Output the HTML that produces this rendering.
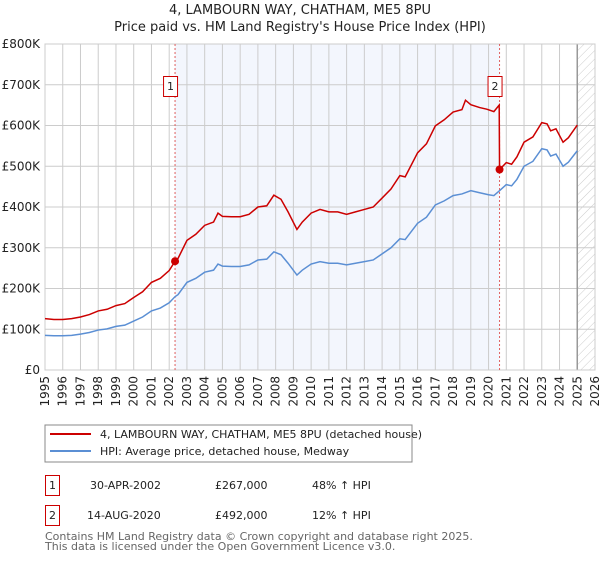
<!DOCTYPE html>
<html><head><meta charset="utf-8"><style>
body{margin:0;background:#fff;font-family:"Liberation Sans","DejaVu Sans",sans-serif;}
svg text{font-family:"DejaVu Sans","Liberation Sans",sans-serif;}
</style></head><body>
<svg id="c" width="600" height="560" xmlns="http://www.w3.org/2000/svg">
<defs><pattern id="hatch" width="6" height="6" patternUnits="userSpaceOnUse" patternTransform="rotate(45)"><line x1="0" y1="0" x2="0" y2="6" stroke="#ccc" stroke-width="1"/></pattern></defs>
<text x="300" y="14" text-anchor="middle" font-size="13" fill="#222">4, LAMBOURN WAY, CHATHAM, ME5 8PU</text>
<text x="300" y="31" text-anchor="middle" font-size="13" fill="#222">Price paid vs. HM Land Registry's House Price Index (HPI)</text>
<g id="plot"></g>
<rect x="45" y="425" width="367" height="37" fill="#fff" stroke="#888"/>
<line x1="50" y1="434" x2="91" y2="434" stroke="#cc0000" stroke-width="2"/>
<text x="100" y="438" font-size="11" fill="#222">4, LAMBOURN WAY, CHATHAM, ME5 8PU (detached house)</text>
<line x1="50" y1="451" x2="91" y2="451" stroke="#5b8fd4" stroke-width="2"/>
<text x="100" y="455" font-size="11" fill="#222">HPI: Average price, detached house, Medway</text>
<g font-size="11" fill="#222">
<rect x="45.5" y="475.5" width="14" height="20" fill="#fff" stroke="#cc0000"/><text x="52.5" y="489" text-anchor="middle">1</text>
<text x="90" y="489">30-APR-2002</text><text x="215" y="489">£267,000</text><text x="312" y="489">48% ↑ HPI</text></g>
<g font-size="11" fill="#222">
<rect x="45.5" y="505.5" width="14" height="20" fill="#fff" stroke="#cc0000"/><text x="52.5" y="519" text-anchor="middle">2</text>
<text x="87" y="519">14-AUG-2020</text><text x="215" y="519">£492,000</text><text x="312" y="519">12% ↑ HPI</text></g>
<text x="45" y="540" font-size="11" fill="#666">Contains HM Land Registry data © Crown copyright and database right 2025.</text>
<text x="45" y="550" font-size="11" fill="#666">This data is licensed under the Open Government Licence v3.0.</text>
</svg>
<script>
const hpiDates=[1995,1995.5,1996,1996.5,1997,1997.5,1998,1998.5,1999,1999.5,2000,2000.5,2001,2001.5,2002,2002.33,2002.5,2003,2003.5,2004,2004.5,2004.75,2005,2005.5,2006,2006.5,2007,2007.5,2007.9,2008.3,2008.7,2009.2,2009.5,2010,2010.5,2011,2011.5,2012,2012.5,2013,2013.5,2014,2014.5,2015,2015.3,2016,2016.5,2017,2017.5,2018,2018.5,2019,2019.5,2020,2020.3,2020.62,2021,2021.3,2021.6,2022,2022.5,2023,2023.3,2023.5,2023.8,2024.2,2024.5,2025];
const hpiValues=[85,84,84,85,88,92,98,101,107,110,120,130,145,152,165,180,185,215,225,240,245,260,255,254,254,258,270,272,290,283,262,233,245,260,266,262,262,258,262,266,270,285,300,322,320,360,375,405,415,428,432,440,435,430,428,440,455,452,468,500,512,543,540,525,530,500,510,538];
const priceDates=[1995,1995.5,1996,1996.5,1997,1997.5,1998,1998.5,1999,1999.5,2000,2000.5,2001,2001.5,2002,2002.33,2002.5,2003,2003.5,2004,2004.5,2004.75,2005,2005.5,2006,2006.5,2007,2007.5,2007.9,2008.3,2008.7,2009.2,2009.5,2010,2010.5,2011,2011.5,2012,2012.5,2013,2013.5,2014,2014.5,2015,2015.3,2016,2016.5,2017,2017.5,2018,2018.5,2018.7,2019,2019.5,2019.9,2020.3,2020.6,2020.62,2021,2021.3,2021.6,2022,2022.5,2023,2023.3,2023.5,2023.8,2024.2,2024.5,2025];
const priceValues=[126,124,124,126,130,136,145,149,158,163,178,192,215,225,244,267,274,318,333,355,363,385,377,376,376,382,400,403,429,419,388,345,363,385,394,388,388,382,388,394,400,422,444,477,474,533,555,599,614,633,639,662,651,644,640,634,650,492,509,505,523,559,572,607,604,587,592,559,570,601];
const saleDates=[2002.33,2020.62];
const saleValues=[267,492];
const yTicks=[0,100,200,300,400,500,600,700,800];
const yTickLabels=["£0","£100K","£200K","£300K","£400K","£500K","£600K","£700K","£800K"];
const xTicks=[];for(let y=1995;y<=2026;y++)xTicks.push(y);
const X0=45,X1=595,Y0=370,Y1=44;
const xs=d=>X0+(d-1995)/(2026-1995)*(X1-X0);
const ys=v=>Y0-v/800*(Y0-Y1);
const NS="http://www.w3.org/2000/svg";
const g=document.getElementById('plot');
function mk(t,a){const e=document.createElementNS(NS,t);for(const k in a)e.setAttribute(k,a[k]);g.appendChild(e);return e;}
let e=mk('rect',{x:X0,y:Y1,width:X1-X0,height:Y0-Y1,fill:'#fff'});


e=mk('rect',{x:xs(saleDates[0]),y:Y1,width:xs(saleDates[1])-xs(saleDates[0]),height:Y0-Y1,fill:'#f3f6fd'});


e=mk('rect',{x:xs(2025),y:Y1,width:X1-xs(2025),height:Y0-Y1,fill:'url(#hatch)'});


xTicks.forEach(t=>{
 e=mk('line',{x1:xs(t),x2:xs(t),y1:Y1,y2:Y0,stroke:'#ccc'});
 
 
 e=mk('text',{x:0,y:0,transform:`translate(${xs(t)+4},${Y0+6}) rotate(-90)`,'text-anchor':'end','font-size':'12',fill:'#222'});
 e.textContent=t;
 
 
});
yTicks.forEach((t,i)=>{
 e=mk('line',{x1:X0,x2:X1,y1:ys(t),y2:ys(t),stroke:'#ccc'});
 
 
 e=mk('text',{x:40,y:ys(t)+4,'text-anchor':'end','font-size':'12',fill:'#222'});
 e.textContent=yTickLabels[i];
 
 
});
e=mk('line',{x1:xs(2025),x2:xs(2025),y1:Y1,y2:Y0,stroke:'#999','stroke-width':1.5});


e=mk('rect',{x:X0,y:Y1,width:X1-X0,height:Y0-Y1,fill:'none',stroke:'#ccc'});


saleDates.forEach((d,i)=>{
 e=mk('line',{x1:xs(d),x2:xs(d),y1:Y1,y2:Y0,stroke:'#e06060','stroke-dasharray':'2,2'});
 
 
});
e=mk('polyline',{points:hpiDates.map((d,i)=>xs(d)+','+ys(hpiValues[i])).join(' '),fill:'none',stroke:'#5b8fd4','stroke-width':1.5});


e=mk('polyline',{points:priceDates.map((d,i)=>xs(d)+','+ys(priceValues[i])).join(' '),fill:'none',stroke:'#cc0000','stroke-width':1.5});


saleDates.forEach((d,i)=>{
 e=mk('circle',{cx:xs(d),cy:ys(saleValues[i]),r:4,fill:'#cc0000'});
 
 
 e=mk('rect',{x:xs(d)-11.5,y:76.5,width:14,height:20,fill:'#fff',stroke:'#cc0000'});
 
 
 e=mk('text',{x:xs(d)-4.5,y:90,'text-anchor':'middle','font-size':'11',fill:'#222'});
 e.textContent=String(i+1);
 
 
});
</script>
</body></html>
